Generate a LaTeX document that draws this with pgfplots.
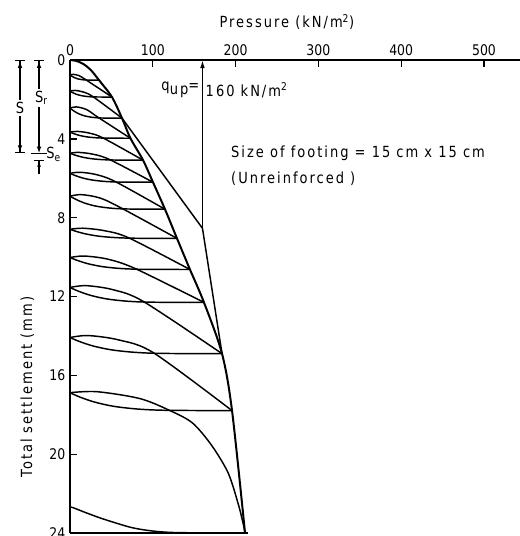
\documentclass[border=0pt]{standalone}
\usepackage{fontspec}
\setmainfont{DejaVu Sans}[FakeStretch=0.85]
\usepackage{pgfplots}
\pgfplotsset{compat=1.18}
\usetikzlibrary{arrows.meta,calc}
\newcommand{\lab}{\fontsize{11.5}{13}\selectfont\addfontfeatures{LetterSpace=13}}

\begin{document}
\begin{tikzpicture}
\begin{axis}[
  name=ax,
  scale only axis,
  width=337.5pt, height=354.75pt,
  xmin=0, xmax=543.5, ymin=0, ymax=24,
  y dir=reverse,
  axis x line*=top, axis y line*=left,
  xtick={0,100,200,300,400,500},
  ytick={0,4,8,12,16,20,24},
  tick align=inside, major tick length=5.5pt,
  tick style={line width=1pt, black},
  axis line style={line width=1.3pt},
  ticklabel style={font=\fontsize{11}{12}\selectfont},
  /pgf/number format/assume math mode=true,
  clip=false,
  cycle list={{black,solid}},
  every axis plot/.append style={line width=1.1pt, black, solid, no marks, smooth},
]
% envelope through the peaks
\addplot[line width=1.5pt] coordinates {(0,0)(8,0.05)(16,0.2)(25,0.5)(35,1.02)(50.7,1.88)(62.8,2.95)(73,3.97)(88.2,5.08)(100.2,6.2)(114.7,7.57)(129.2,9.05)(144.9,10.63)(161.8,12.3)(183.6,14.9)(195.7,17.79)(211.4,24)};
% second line to q_up
\addplot[sharp plot] coordinates {(62.8,2.95)(160,8.54)(183.6,14.9)};

% unloading curves
\addplot[] coordinates {(0,0.76)(2.1,0.82)(5.3,0.895)(9.5,0.958)(14.7,0.998)(21.0,1.016)(35.0,1.02)};
\addplot[] coordinates {(0,1.58)(3.0,1.652)(7.6,1.736)(13.7,1.808)(21.3,1.854)(30.4,1.875)(50.7,1.88)};
\addplot[] coordinates {(0,2.44)(3.8,2.562)(9.4,2.705)(17.0,2.828)(26.4,2.906)(37.7,2.942)(62.8,2.95)};
\addplot[] coordinates {(0,3.66)(4.4,3.734)(10.9,3.821)(19.6,3.896)(30.5,3.943)(43.5,3.965)(73,3.97)};
\addplot[] coordinates {(0,4.73)(5.3,4.814)(13.2,4.912)(23.8,4.996)(37.0,5.05)(52.9,5.074)(88.2,5.08)};
\addplot[] coordinates {(0,5.75)(6.0,5.858)(15.0,5.984)(27.1,6.092)(42.1,6.161)(60.1,6.193)(100.2,6.20)};
\addplot[] coordinates {(0,6.91)(6.9,7.068)(17.2,7.253)(31.0,7.412)(48.2,7.513)(68.8,7.559)(114.7,7.57)};
\addplot[] coordinates {(0,8.59)(7.8,8.70)(19.4,8.829)(34.9,8.94)(54.3,9.01)(77.5,9.043)(129.2,9.05)};
\addplot[] coordinates {(0,10.02)(8.7,10.166)(21.7,10.337)(39.1,10.484)(60.9,10.578)(86.9,10.62)(144.9,10.63)};
\addplot[] coordinates {(0,11.54)(9.7,11.722)(24.3,11.935)(43.7,12.118)(68.0,12.235)(97.1,12.288)(161.8,12.30)};
\addplot[] coordinates {(0,14.08)(11.0,14.277)(27.5,14.506)(49.6,14.703)(77.1,14.829)(110.2,14.887)(183.6,14.90)};
\addplot[] coordinates {(0,16.88)(11.7,17.098)(29.4,17.353)(52.8,17.572)(82.2,17.712)(117.4,17.775)(195.7,17.79)};
\addplot[] coordinates {(0,22.67)(6,22.75)(18,22.95)(36,23.23)(56,23.5)(76,23.74)(100,23.9)(130,23.98)(211.4,24.0)};

% reloading curves
\addplot[] coordinates {(0,0.76)(4.2,0.729)(11.2,0.799)(19.3,1.007)(50.7,1.88)};
\addplot[] coordinates {(0,1.58)(6.1,1.544)(16.2,1.625)(27.9,1.865)(62.8,2.95)};
\addplot[] coordinates {(0,2.44)(7.5,2.379)(20.1,2.517)(34.5,2.925)(73,3.97)};
\addplot[] coordinates {(0,3.66)(8.7,3.623)(23.2,3.707)(39.9,3.955)(88.2,5.08)};
\addplot[] coordinates {(0,4.73)(10.6,4.688)(28.2,4.783)(48.5,5.063)(100.2,6.2)};
\addplot[] coordinates {(0,5.75)(12.0,5.696)(32.1,5.818)(55.1,6.178)(114.7,7.57)};
\addplot[] coordinates {(0,6.91)(13.8,6.831)(36.7,7.009)(63.1,7.537)(129.2,9.05)};
\addplot[] coordinates {(0,8.59)(15.5,8.535)(41.3,8.659)(71.1,9.027)(144.9,10.63)};
\addplot[] coordinates {(0,10.02)(17.4,9.947)(46.4,10.112)(79.7,10.6)(161.8,12.3)};
\addplot[] coordinates {(0,11.54)(19.4,11.449)(51.8,11.654)(89.0,12.262)(183.6,14.9)};
\addplot[] coordinates {(0,14.08)(22.0,13.982)(58.8,14.203)(101.0,14.859)(195.7,17.79)};
\addplot[] coordinates {(0,16.88)(32.6,16.83)(84.5,17.18)(120.8,17.79)(148,18.42)(171,19.55)(191,20.95)(203,22.5)(209,23.5)(211.4,24.0)};

% bottom line
\draw[line width=1.3pt] (axis cs:0,24) -- (axis cs:215,24);

% q_up marker
\draw[line width=1.1pt, -{Latex[length=6pt,width=3.5pt]}] (axis cs:160,8.54) -- (axis cs:160,0);
\node[anchor=east, inner sep=1pt] at (axis cs:158,1.53) {\lab q\raisebox{-3pt}{up}=};
\node[anchor=west, inner sep=1pt] at (axis cs:162,1.53) {\lab 160 kN/m\textsuperscript{2}};

\node[anchor=west, inner sep=0pt] at (axis cs:194.4,4.73) {\lab Size of footing = 15 cm x 15 cm};
\node[anchor=west, inner sep=0pt] at (axis cs:194.4,6.0) {\lab (Unreinforced )};

% titles
\node[inner sep=0pt] at ([yshift=28.5pt]axis cs:262,0) {\lab Pressure (kN/m\textsuperscript{2})};
\node[rotate=90, inner sep=0pt] at ([xshift=-32pt]axis cs:0,16.6) {\lab Total settlement (mm)};

% S, Sr, Se dimensions
\draw[line width=0.9pt, {Bar[width=7pt]Latex[length=5pt,width=3.5pt]}-{Latex[length=5pt,width=3.5pt]Bar[width=7pt]}]
  (axis cs:-60.4,0) -- (axis cs:-60.4,4.73);
\node[fill=white, inner sep=1.5pt] at (axis cs:-60.4,2.44) {\lab S};
\draw[line width=0.9pt, {Bar[width=7pt]Latex[length=5pt,width=3.5pt]}-{Latex[length=5pt,width=3.5pt]}]
  (axis cs:-37.4,0) -- (axis cs:-37.4,4.73);
\draw[line width=0.9pt] (axis cs:-47,4.73) -- (axis cs:-28,4.73);
\node[fill=white, inner sep=1.5pt] at (axis cs:-34.5,1.93) {\lab S\textsubscript{r}};
\draw[line width=0.9pt, {Bar[width=7pt]Latex[length=4pt,width=3pt]}-]
  (axis cs:-37.4,5.08) -- (axis cs:-37.4,5.8);
\node[anchor=west, inner sep=0pt] at (axis cs:-29,4.78) {\lab S\textsubscript{e}};
\end{axis}
\pgfresetboundingbox
\useasboundingbox ($(ax.north west)+(-52.5pt,45pt)$) rectangle ($(ax.south east)+(0pt,-2.25pt)$);
\end{tikzpicture}
\end{document}
